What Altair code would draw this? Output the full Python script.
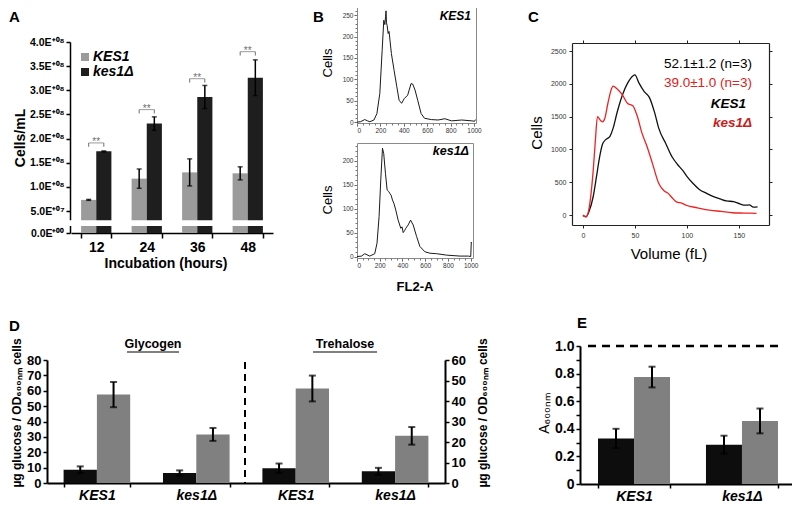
import altair as alt
import pandas as pd

FONT = "Liberation Sans"
W, H, M = 784, 497, 8

# ---------------- data ----------------
# Panel A: cell density, in units of 1E+08 cells/mL
A_hours = ["12", "24", "36", "48"]
A_strains = ["KES1", "kes1Δ"]
A_wt = [0.73, 1.17, 1.30, 1.28]
A_wt_err = [0.01, 0.20, 0.28, 0.135]
A_del = [1.735, 2.31, 2.86, 3.26]
A_del_err = [0.01, 0.14, 0.24, 0.37]
A_sig_level = [1.91, 2.60, 3.24, 3.80]
A_sig_label = ["**", "**", "**", "**"]
A_yticks = [0.0, 0.5, 1.0, 1.5, 2.0, 2.5, 3.0, 3.5, 4.0]
A_break = [0.16, 0.29]

# Panel B: FL2-A histograms
B_fl2_wt = [0, 30, 66, 90, 110, 145, 170, 195, 215, 229, 238, 244, 248, 252, 258, 266, 274, 294, 317, 340, 360,
            381, 404, 433, 462, 476, 496, 519, 548, 577, 635, 693, 751, 808, 895, 982, 1005, 1012]
B_cells_wt = [0, 1, 6, 3, 1, 5, 20, 67, 168, 238, 228, 246, 260, 232, 225, 207, 212, 160, 121, 83, 51,
              44, 55, 63, 90, 89, 75, 51, 20, 9, 6, 5, 8, 3, 5, 3, 2, 6]
B_fl2_del = [0, 40, 68, 112, 156, 176, 194, 209, 224, 235, 250, 265, 278, 288, 300, 312, 326, 341, 362, 385,
             396, 406, 418, 429, 450, 471, 494, 524, 553, 597, 641, 700, 788, 906, 979, 1000, 1005, 1008]
B_cells_del = [0, 1, 6, 1, 6, 28, 83, 160, 226, 215, 174, 139, 136, 132, 128, 118, 110, 97, 76, 59,
               62, 50, 54, 59, 66, 76, 66, 42, 21, 10, 7, 6, 3, 1, 1, 0, 30, 28]

# Panel C: cell volume distributions
C_vol_wt = [0, 3, 6, 10, 13, 16, 19, 22, 26, 29, 33, 38, 43, 48, 50, 54, 59, 64, 69, 73, 80, 86, 91, 96,
            100, 106, 112, 119, 125, 132, 138, 145, 151, 156, 160, 164, 168]
C_cells_wt = [-10, -25, 60, 290, 580, 880, 1085, 1150, 1200, 1320, 1570, 1830, 2010, 2120, 2135, 2010, 1880,
              1790, 1560, 1320, 1080, 880, 770, 680, 590, 480, 390, 330, 285, 245, 215, 205, 170, 150, 155, 120, 125]
C_vol_del = [0, 3, 6, 10, 12, 14, 17, 19, 21, 24, 27, 29, 33, 38, 43, 48, 52, 57, 62, 67, 73, 78, 82, 86,
             90, 95, 100, 110, 122, 133, 144, 155, 167]
C_cells_del = [0, -30, 110, 700, 1140, 1500, 1440, 1420, 1470, 1700, 1900, 1965, 1920, 1830, 1700, 1665,
               1520, 1240, 1030, 780, 480, 370, 330, 260, 200, 180, 145, 110, 75, 55, 35, 30, 25]
C_stat_wt = "52.1±1.2 (n=3)"
C_stat_del = "39.0±1.0 (n=3)"

# Panel D: glycogen (left axis) and trehalose (right axis)
D_assays = ["Glycogen", "Trehalose"]
D_strains = ["KES1", "kes1Δ"]
D_series = ["series 1", "series 2"]
D_gly_s1 = [8.6, 6.5]
D_gly_s1_err = [2.2, 1.7]
D_gly_s2 = [57.5, 31.6]
D_gly_s2_err = [8.2, 4.2]
D_tre_s1 = [7.2, 5.7]
D_tre_s1_err = [2.3, 1.7]
D_tre_s2 = [46.1, 23.0]
D_tre_s2_err = [6.3, 4.3]
D_title_left = "µg glucose / OD₆₀₀ₙₘ cells"

# Panel E
E_strains = ["KES1", "kes1Δ"]
E_s1 = [0.33, 0.285]
E_s1_err = [0.07, 0.065]
E_s2 = [0.775, 0.457]
E_s2_err = [0.075, 0.09]
E_ref = [1.0]
E_yticks = [0, 0.1, 0.2, 0.3, 0.4, 0.5, 0.6, 0.7, 0.8, 0.9, 1.0]


# ---------------- helpers ----------------
def px(v):
    return v - M


def ax(orient, pos, **kw):
    if orient == "left":
        off = -px(pos)
    elif orient == "right":
        off = px(pos) - W
    elif orient == "bottom":
        off = -(H - px(pos))
    else:
        off = -px(pos)
    base = dict(orient=orient, offset=off, title=None, grid=False, labelFont=FONT,
                labelColor="black", domainColor="black", tickColor="black")
    base.update(kw)
    return alt.Axis(**base)


def txt(s, x, y, size=14, weight="bold", style="normal", color="black", align="center", angle=0):
    return alt.Chart(pd.DataFrame({"t": [s]})).mark_text(
        font=FONT, fontSize=size, fontWeight=weight, fontStyle=style, color=color,
        align=align, angle=angle, baseline="middle"
    ).encode(x=alt.value(px(x)), y=alt.value(px(y)), text="t:N")


def lin(domain, r0, r1):
    return alt.Scale(domain=domain, range=[px(r0), px(r1)], nice=False, zero=False)


layers = []

# ---------------- Panel A ----------------
dfA = pd.DataFrame({
    "hour": A_hours * 2,
    "strain": [A_strains[0]] * 4 + [A_strains[1]] * 4,
    "value": A_wt + A_del,
    "err": A_wt_err + A_del_err,
})
dfA["lo"] = dfA["value"] - dfA["err"]
dfA["hi"] = dfA["value"] + dfA["err"]

xA = alt.Scale(domain=A_hours, range=[px(71), px(273)], paddingInner=0.4, paddingOuter=0.2)
oA = alt.Scale(domain=A_strains, paddingInner=0, paddingOuter=0)
yA = alt.Scale(domain=[0, 0.5, 4.0], range=[px(233), px(211), px(42)], nice=False, zero=False)
cA = alt.Scale(domain=A_strains, range=["#9b9b9b", "#1e1e1e"])

A_ylab = ("datum.value == 0 ? '0.0E⁺⁰⁰' : (datum.value < 1 ? format(datum.value * 10, '.1f') + 'E⁺⁰⁷'"
          " : format(datum.value, '.1f') + 'E⁺⁰⁸')")

layers.append(alt.Chart(dfA).mark_bar().encode(
    x=alt.X("hour:N", scale=xA, axis=ax("bottom", 233, tickBand="extent", labelFontSize=14,
                                          labelFontWeight="bold", labelAngle=0, tickSize=5,
                                          tickWidth=1.5, domainWidth=1.5, labelPadding=2)),
    xOffset=alt.XOffset("strain:N", scale=oA),
    y=alt.Y("value:Q", scale=yA, axis=ax("left", 70, values=A_yticks, labelExpr=A_ylab,
                                          labelFontSize=10.5, labelFontWeight="bold", tickSize=4,
                                          tickWidth=1.5, domainWidth=1.5, labelPadding=2)),
    y2=alt.datum(0),
    color=alt.Color("strain:N", scale=cA, legend=None),
))
layers.append(alt.Chart(dfA).mark_rule(color="black", strokeWidth=1.5).encode(
    x=alt.X("hour:N", scale=xA, axis=None), xOffset=alt.XOffset("strain:N", scale=oA),
    y=alt.Y("lo:Q", scale=yA, axis=None), y2="hi:Q"))
for col in ["lo", "hi"]:
    layers.append(alt.Chart(dfA).mark_tick(color="black", thickness=1.5, size=5).encode(
        x=alt.X("hour:N", scale=xA, axis=None), xOffset=alt.XOffset("strain:N", scale=oA),
        y=alt.Y(f"{col}:Q", scale=yA, axis=None)))

# axis break
dfBreak = pd.DataFrame({"lo": [A_break[0]], "hi": [A_break[1]]})
layers.append(alt.Chart(dfBreak).mark_rect(color="white").encode(
    x=alt.value(px(64)), x2=alt.value(px(276)),
    y=alt.Y("lo:Q", scale=yA, axis=None), y2="hi:Q"))

# significance brackets
dfSig = pd.DataFrame({"hour": A_hours, "level": A_sig_level, "label": A_sig_label})
dfLegs = pd.DataFrame({
    "hour": A_hours * 2,
    "strain": [A_strains[0]] * 4 + [A_strains[1]] * 4,
    "top": A_sig_level * 2,
})
dfLegs["bottom"] = dfLegs["top"] - 0.08
layers.append(alt.Chart(dfLegs).mark_rule(color="#6f6f6f", strokeWidth=1).encode(
    x=alt.X("hour:N", scale=xA, axis=None), xOffset=alt.XOffset("strain:N", scale=oA),
    y=alt.Y("bottom:Q", scale=yA, axis=None), y2="top:Q"))
layers.append(alt.Chart(dfSig).mark_tick(color="#6f6f6f", thickness=1, size=15).encode(
    x=alt.X("hour:N", scale=xA, axis=None), y=alt.Y("level:Q", scale=yA, axis=None)))
layers.append(alt.Chart(dfSig).mark_text(font=FONT, fontSize=10, color="#6f6f6f", dy=-1).encode(
    x=alt.X("hour:N", scale=xA, axis=None), y=alt.Y("level:Q", scale=yA, axis=None), text="label:N"))

# legend
dfLeg = pd.DataFrame({"strain": A_strains})
yLeg = alt.Scale(type="point", domain=A_strains, range=[px(57), px(72)], padding=0)
layers.append(alt.Chart(dfLeg).mark_square(size=64, opacity=1).encode(
    x=alt.value(px(85)), y=alt.Y("strain:N", scale=yLeg, axis=None),
    color=alt.Color("strain:N", scale=cA, legend=None)))
layers.append(alt.Chart(dfLeg).mark_text(font=FONT, fontSize=14, fontWeight="bold", fontStyle="italic",
                                         align="left").encode(
    x=alt.value(px(93)), y=alt.Y("strain:N", scale=yLeg, axis=None), text="strain:N"))

layers += [
    txt("A", 9, 17, size=15, align="left"),
    txt("Cells/mL", 21, 138, size=14, angle=270),
    txt("Incubation (hours)", 166, 264, size=14),
]

# ---------------- Panel B ----------------
B_ax = dict(labelFontSize=6.5, labelColor="#333333", domainColor="#8a8a8a", tickColor="#555555",
            tickSize=3, labelPadding=1, format="d")


def hist_panel(xs, ys, xdom, xr, ydom, yr, yvals, xvals):
    df = pd.DataFrame({"fl2": xs, "cells": ys})
    xs_ = lin(xdom, *xr)
    ys_ = lin(ydom, *yr)
    out = [
        alt.Chart(df).mark_line(color="#1a1a1a", strokeWidth=1).encode(
            x=alt.X("fl2:Q", scale=xs_, axis=ax("bottom", yr[0], values=xvals, **B_ax)),
            y=alt.Y("cells:Q", scale=ys_, axis=ax("left", xr[0], values=yvals, **B_ax))),
        alt.Chart(df).mark_line(opacity=0).encode(
            x=alt.X("fl2:Q", scale=xs_, axis=ax("top", yr[1], ticks=False, labels=False,
                                                 domainColor="#8a8a8a")),
            y=alt.Y("cells:Q", scale=ys_, axis=ax("right", xr[1], ticks=False, labels=False,
                                                   domainColor="#8a8a8a"))),
        alt.Chart(df).mark_line(opacity=0).encode(
            x=alt.X("fl2:Q", scale=xs_, axis=ax("bottom", yr[0], values=list(range(0, 1001, 50)),
                                                 labels=False, domain=False, tickSize=2,
                                                 tickColor="#777777")),
            y=alt.Y("cells:Q", scale=ys_, axis=ax("left", xr[0], values=list(range(0, int(ydom[1]), 10)),
                                                   labels=False, domain=False, tickSize=2,
                                                   tickColor="#777777"))),
    ]
    return out


layers += hist_panel(B_fl2_wt, B_cells_wt, [0, 1017], (357, 476), [-2, 276], (123, 4),
                     [0, 50, 100, 150, 200, 250], [0, 200, 400, 600, 800, 1000])
layers += hist_panel(B_fl2_del, B_cells_del, [0, 1020], (357, 473), [-3, 237], (258, 143),
                     [0, 50, 100, 150, 200], [0, 200, 400, 600, 800, 1000])
layers += [
    txt("B", 313, 17, size=15, align="left"),
    txt("Cells", 328, 63, size=13, weight="normal", angle=270),
    txt("Cells", 328, 200, size=13, weight="normal", angle=270),
    txt("KES1", 471, 16, size=12, style="italic", align="right"),
    txt("kes1Δ", 469, 151, size=12.5, style="italic", align="right"),
    txt("FL2-A", 415, 287, size=13),
]

# ---------------- Panel C ----------------
dfC = pd.DataFrame({
    "vol": C_vol_wt + C_vol_del,
    "cells": C_cells_wt + C_cells_del,
    "strain": ["KES1"] * len(C_vol_wt) + ["kes1Δ"] * len(C_vol_del),
})
xC = lin([-10.5, 179], 572, 769)
yC = lin([-152, 2622], 225, 43)
cC = alt.Scale(domain=["KES1", "kes1Δ"], range=["#111111", "#ee2222"])
C_ax = dict(labelFontSize=7, labelColor="#333333", domainColor="#222222", tickColor="#222222",
            tickSize=3, labelPadding=3, domainWidth=1.2, format="d")
C_ax_nolab = {k: v for k, v in C_ax.items() if not k.startswith("label") and k != "format"}
C_xt = [0, 50, 100, 150]
C_yt = [0, 500, 1000, 1500, 2000, 2500]
layers.append(alt.Chart(dfC).mark_line(strokeWidth=1.3, interpolate="monotone").encode(
    x=alt.X("vol:Q", scale=xC, axis=ax("bottom", 225, values=C_xt, **C_ax)),
    y=alt.Y("cells:Q", scale=yC, axis=ax("left", 572, values=C_yt, **C_ax)),
    color=alt.Color("strain:N", scale=cC, legend=None),
    detail="strain:N"))
layers.append(alt.Chart(dfC).mark_line(opacity=0).encode(
    x=alt.X("vol:Q", scale=xC, axis=ax("top", 43, values=C_xt, labels=False, **C_ax_nolab)),
    y=alt.Y("cells:Q", scale=yC, axis=ax("right", 769, values=C_yt, labels=False, **C_ax_nolab)),
    detail="strain:N"))
layers += [
    txt("C", 528, 17, size=15, align="left"),
    txt("Cells", 537, 133, size=15, weight="normal", angle=270),
    txt("Volume (fL)", 669, 254, size=15, weight="normal"),
    txt(C_stat_wt, 752, 64, size=13.5, weight="normal", align="right"),
    txt(C_stat_del, 752, 83, size=13.5, weight="normal", align="right", color="#dd2020"),
    txt("KES1", 746, 104, size=13.5, style="italic", align="right"),
    txt("kes1Δ", 752, 123, size=13.5, style="italic", align="right", color="#c81e1e"),
]

# ---------------- bottom row (shifted up to keep labels inside) ----------------
DY = -8
D_keys = [f"{a}|{s}" for a in D_assays for s in D_strains]


def d_frame(assay, s1, s1e, s2, s2e):
    df = pd.DataFrame({
        "key": [f"{assay}|{s}" for s in D_strains] * 2,
        "series": [D_series[0]] * 2 + [D_series[1]] * 2,
        "value": s1 + s2,
        "err": s1e + s2e,
    })
    df["lo"] = df["value"] - df["err"]
    df["hi"] = df["value"] + df["err"]
    return df


dfDg = d_frame("Glycogen", D_gly_s1, D_gly_s1_err, D_gly_s2, D_gly_s2_err)
dfDt = d_frame("Trehalose", D_tre_s1, D_tre_s1_err, D_tre_s2, D_tre_s2_err)
xD = alt.Scale(domain=D_keys, range=[px(47), px(445)], paddingInner=0.33, paddingOuter=0.167)
oD = alt.Scale(domain=D_series, paddingInner=0, paddingOuter=0)
yDL = lin([0, 80], 491 + DY, 368 + DY)
yDR = lin([0, 60], 491 + DY, 368 + DY)
cD = alt.Scale(domain=D_series, range=["#0d0d0d", "#808080"])
D_yax = dict(labelFontSize=13, labelFontWeight="bold", tickSize=4, tickWidth=1.5, domainWidth=2,
             labelPadding=2)


def bars_with_err(df, xs, os_, ys, cs, xaxis, yaxis, cap=7):
    out = [alt.Chart(df).mark_bar().encode(
        x=alt.X("key:N", scale=xs, axis=xaxis),
        xOffset=alt.XOffset("series:N", scale=os_),
        y=alt.Y("value:Q", scale=ys, axis=yaxis), y2=alt.datum(0),
        color=alt.Color("series:N", scale=cs, legend=None)),
        alt.Chart(df).mark_rule(color="black", strokeWidth=2).encode(
            x=alt.X("key:N", scale=xs, axis=None), xOffset=alt.XOffset("series:N", scale=os_),
            y=alt.Y("lo:Q", scale=ys, axis=None), y2="hi:Q")]
    for col in ["lo", "hi"]:
        out.append(alt.Chart(df).mark_tick(color="black", thickness=2, size=cap).encode(
            x=alt.X("key:N", scale=xs, axis=None), xOffset=alt.XOffset("series:N", scale=os_),
            y=alt.Y(f"{col}:Q", scale=ys, axis=None)))
    return out


D_xax = ax("bottom", 491 + DY, tickBand="extent", labelExpr="split(datum.value, '|')[1]", labelFontSize=14,
           labelFontWeight="bold", labelFontStyle="italic", labelAngle=0, tickSize=4, tickWidth=1.5,
           domainWidth=2, labelPadding=1)
layers += bars_with_err(dfDg, xD, oD, yDL, cD, D_xax,
                        ax("left", 47, values=list(range(0, 81, 10)), **D_yax))
layers += bars_with_err(dfDt, xD, oD, yDR, cD, None,
                        ax("right", 445, values=list(range(0, 61, 10)), **D_yax))
layers += [
    alt.Chart(pd.DataFrame({"d": [0]})).mark_rule(color="black", strokeWidth=2, strokeDash=[7, 5]).encode(
        x=alt.value(px(245)), y=alt.value(px(370 + DY)), y2=alt.value(px(492 + DY))),
    txt("D", 9, 334 + DY, size=15, align="left"),
    txt(D_assays[0], 153, 352 + DY, size=12.5),
    txt(D_assays[1], 345, 352 + DY, size=12.5),
    alt.Chart(pd.DataFrame({"x0": [127, 313], "x1": [179, 377]})).mark_rule(color="black", strokeWidth=1).encode(
        x=alt.X("x0:Q", scale=alt.Scale(domain=[M, M + W], range=[0, W]), axis=None),
        x2="x1:Q", y=alt.value(px(360 + DY))),
    txt(D_title_left, 17, 421 + DY, size=12, angle=270),
    txt(D_title_left, 483, 421 + DY, size=12, angle=270),
]

# ---------------- Panel E ----------------
dfE = pd.DataFrame({
    "key": E_strains * 2,
    "series": [D_series[0]] * 2 + [D_series[1]] * 2,
    "value": E_s1 + E_s2,
    "err": E_s1_err + E_s2_err,
})
dfE["lo"] = dfE["value"] - dfE["err"]
dfE["hi"] = dfE["value"] + dfE["err"]
xE = alt.Scale(domain=E_strains, range=[px(580), px(796)], paddingInner=0.333, paddingOuter=0.167)
yE = lin([0, 1.0], 492 + DY, 354 + DY)
E_xax = ax("bottom", 492 + DY, tickBand="extent", labelFontSize=14, labelFontWeight="bold",
           labelFontStyle="italic", labelAngle=0, tickSize=4, tickWidth=1.5, domainWidth=2, labelPadding=1)
E_yax = ax("left", 580, values=E_yticks, labelExpr="datum.value == 0 ? '0' : format(datum.value, '.1f')",
           labelFontSize=14, labelFontWeight="bold", tickSize=4, tickWidth=1.5, domainWidth=2, labelPadding=2)
layers += bars_with_err(dfE, xE, oD, yE, cD, E_xax, E_yax)
layers += [
    alt.Chart(pd.DataFrame({"ref": E_ref})).mark_rule(color="black", strokeWidth=2.5, strokeDash=[8, 6]).encode(
        x=alt.value(px(588)), x2=alt.value(px(783)), y=alt.Y("ref:Q", scale=yE, axis=None)),
    txt("E", 577, 331 + DY, size=15, align="left"),
    txt("A₆₀₀ₙₘ", 545, 421 + DY, size=14, weight="normal", angle=270),
]

chart = alt.layer(*layers).resolve_scale(
    x="independent", y="independent", color="independent", xOffset="independent"
).properties(
    width=W, height=H, padding=0, autosize=alt.AutoSizeParams(type="none")
).configure_view(stroke=None)

chart.save("out.html", embed_options={"renderer": "svg", "actions": False})
